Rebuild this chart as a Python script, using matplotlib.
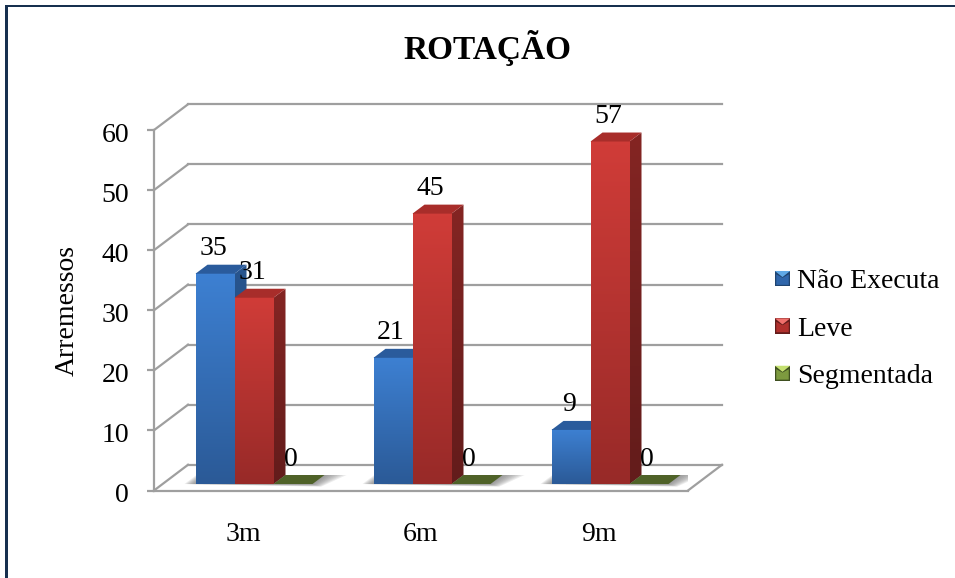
import numpy as np
import matplotlib
matplotlib.use("Agg")
import matplotlib.pyplot as plt
from matplotlib.colors import LinearSegmentedColormap
from matplotlib.legend_handler import HandlerBase
from matplotlib.patches import Patch, Polygon, Rectangle
from matplotlib.transforms import ScaledTranslation

plt.rcParams["font.family"] = ["Liberation Serif", "DejaVu Serif"]

W, H = 955, 578

# chart data
categories = ["3m", "6m", "9m"]
series_names = ["Não Executa", "Leve", "Segmentada"]
nao_executa = [35, 21, 9]
leve = [31, 45, 57]
segmentada = [0, 0, 0]
y_ticks = [0, 10, 20, 30, 40, 50, 60]

# colours per series: top of front, bottom of front, side top, side bottom, cap
BLUE = ("#3d80d2", "#2b5a97", "#28558f", "#1f4470", "#2a5b9c")
RED = ("#d03c38", "#982a28", "#842523", "#631c1b", "#a82d2a")
GREEN = ("#9bbb59", "#4f6228", "#4f6228", "#3f4f20", "#4f6228")
GRID = "#9f9f9f"
NAVY = "#17304f"
FONT_SIZE = 20

fig = plt.figure(figsize=(W / 100, H / 100), dpi=100)
ax = fig.add_axes([154 / W, 1 - 490.5 / H, (688 - 154) / W, (490.5 - 130) / H])
ax.set_xlim(0, 3)
ax.set_ylim(0, 60)
ax.patch.set_visible(False)

px_x = 3 / (688 - 154)  # data units per pixel
px_y = 60 / (490.5 - 130)

WALL_DX = 34 * px_x
WALL_DY = 25.7 * px_y
BAR_W = 39 * px_x
BAR_DX = 12 * px_x
BAR_DY = 9 * px_y
BASE_DX = 11 * px_x
BASE_DY = 6.5 * px_y


def gradient_fill(x0, x1, y0, y1, c_top, c_bottom, zorder, clip=None):
    cmap = LinearSegmentedColormap.from_list("g", [c_bottom, c_top])
    im = ax.imshow(np.linspace(1, 0, 64).reshape(-1, 1), cmap=cmap, aspect="auto",
                   extent=(x0, x1, y0, y1), zorder=zorder, interpolation="bilinear")
    if clip is not None:
        patch = Polygon(clip, closed=True, transform=ax.transData, facecolor="none", edgecolor="none")
        ax.add_patch(patch)
        im.set_clip_path(patch)
    return im


def draw_bar(x, value, colors, zorder):
    y0 = BASE_DY
    y1 = BASE_DY + value
    if value == 0:
        ax.add_patch(Polygon([(x, y0), (x + BAR_W, y0), (x + BAR_W + BAR_DX, y0 + BAR_DY),
                              (x + BAR_DX, y0 + BAR_DY)], closed=True, facecolor=colors[1],
                             edgecolor="none", zorder=zorder))
        return
    gradient_fill(x, x + BAR_W, y0, y1, colors[0], colors[1], zorder)
    side = [(x + BAR_W, y0), (x + BAR_W + BAR_DX, y0 + BAR_DY),
            (x + BAR_W + BAR_DX, y1 + BAR_DY), (x + BAR_W, y1)]
    gradient_fill(x + BAR_W, x + BAR_W + BAR_DX, y0, y1 + BAR_DY, colors[2], colors[3], zorder, side)
    ax.add_patch(Polygon([(x, y1), (x + BAR_W, y1), (x + BAR_W + BAR_DX, y1 + BAR_DY),
                          (x + BAR_DX, y1 + BAR_DY)], closed=True, facecolor=colors[4],
                         edgecolor="none", zorder=zorder))


# side wall, back wall and floor lines
for v in y_ticks:
    ax.plot([0, WALL_DX], [v, v + WALL_DY], color=GRID, lw=1.6, clip_on=False, zorder=1)
    ax.plot([WALL_DX, 3 + WALL_DX], [v + WALL_DY, v + WALL_DY], color=GRID, lw=1.6, clip_on=False, zorder=1)
ax.plot([3, 3 + WALL_DX], [0, WALL_DY], color=GRID, lw=1.6, clip_on=False, zorder=1)

# bars, with a soft shadow on the floor under each cluster
all_values = [nao_executa, leve, segmentada]
all_colors = [BLUE, RED, GREEN]
for i in range(len(categories)):
    left = i + 0.5 + BASE_DX - 1.5 * BAR_W
    for grow in np.linspace(22, 2, 8):
        sx, sy = grow * px_x, grow * 0.12 * px_y
        ax.add_patch(Polygon([(left - sx * 0.5, BASE_DY), (left + 3 * BAR_W + sx * 0.4, BASE_DY - sy),
                              (left + 3 * BAR_W + BAR_DX + sx, BASE_DY + BAR_DY),
                              (left + BAR_DX - sx * 0.5, BASE_DY + BAR_DY)], closed=True,
                             facecolor="#707070", alpha=0.13, edgecolor="none", zorder=2))
    for s, (vals, cols) in enumerate(zip(all_values, all_colors)):
        x = left + s * BAR_W
        draw_bar(x, vals[i], cols, zorder=3 + s)
        ax.annotate(str(vals[i]), (x + BAR_W / 2, BASE_DY + vals[i]), xytext=(-2, 25),
                    textcoords="offset pixels", ha="center", va="center", fontsize=FONT_SIZE,
                    color="black", zorder=10)

ax.set_xticks([i + 0.5 for i in range(len(categories))], categories)
ax.set_yticks(y_ticks)
ax.tick_params(axis="x", length=0, pad=22.5, labelsize=FONT_SIZE)
ax.tick_params(axis="y", length=5, width=1.6, color=GRID, pad=13, labelsize=FONT_SIZE)
for label in ax.get_yticklabels():
    label.set_transform(label.get_transform() + ScaledTranslation(0, -2 / 100, fig.dpi_scale_trans))
for name in ("top", "right"):
    ax.spines[name].set_visible(False)
for name in ("left", "bottom"):
    ax.spines[name].set_color(GRID)
    ax.spines[name].set_linewidth(1.6)
fig.text(67 / W, 1 - 311 / H, "Arremessos", fontsize=FONT_SIZE, rotation=90, ha="center", va="center")

fig.text(487 / W, 1 - 48 / H, "ROTAÇÃO", fontsize=24, fontweight="bold", ha="center", va="center")


class SwatchHandler(HandlerBase):
    # square key with a lighter triangle along its top edge
    def create_artists(self, legend, orig_handle, xdescent, ydescent, width, height, fontsize, trans):
        cols = orig_handle.swatch
        s = 11.0
        x0 = -xdescent + (width - s) / 2
        y0 = -ydescent + (height - s) / 2
        base = Rectangle((x0, y0), s, s, facecolor=cols[1], edgecolor="none", transform=trans)
        body = Polygon([(x0 + 1, y0 + 1), (x0 + s - 1, y0 + 1), (x0 + s - 1, y0 + s * 0.78),
                        (x0 + s / 2, y0 + s * 0.55), (x0 + 1, y0 + s * 0.78)], closed=True,
                       facecolor=cols[0], edgecolor="none", transform=trans)
        tri = Polygon([(x0, y0 + s), (x0 + s, y0 + s), (x0 + s / 2, y0 + s * 0.6)], closed=True,
                      facecolor=cols[2], edgecolor="none", transform=trans)
        return [base, body, tri]


handles = []
for color, swatch in zip(("#2b5a97", "#982a28", "#6f8a3a"),
                         (("#2f66ab", "#1f4470", "#5fa8e6"),
                          ("#b0302d", "#631c1b", "#f0706c"),
                          ("#7d9a3f", "#3f4f20", "#c4e070"))):
    h = Patch(facecolor=color)
    h.swatch = swatch
    handles.append(h)

fig.legend(handles, series_names, handler_map={Patch: SwatchHandler()}, loc="center left",
           bbox_to_anchor=(770 / W, 1 - 329 / H), frameon=False, fontsize=FONT_SIZE, handlelength=0.9,
           handletextpad=0.07, labelspacing=0.79, borderpad=0, borderaxespad=0)

# page border along the top and left edges
fig.add_artist(Rectangle((5 / W, 1 - 7 / H), (W - 5) / W, 2 / H, transform=fig.transFigure,
                         facecolor=NAVY, edgecolor="none"))
fig.add_artist(Rectangle((5 / W, 0), 3 / W, 1 - 5 / H, transform=fig.transFigure,
                         facecolor=NAVY, edgecolor="none"))

fig.savefig("out.png", dpi=100)
